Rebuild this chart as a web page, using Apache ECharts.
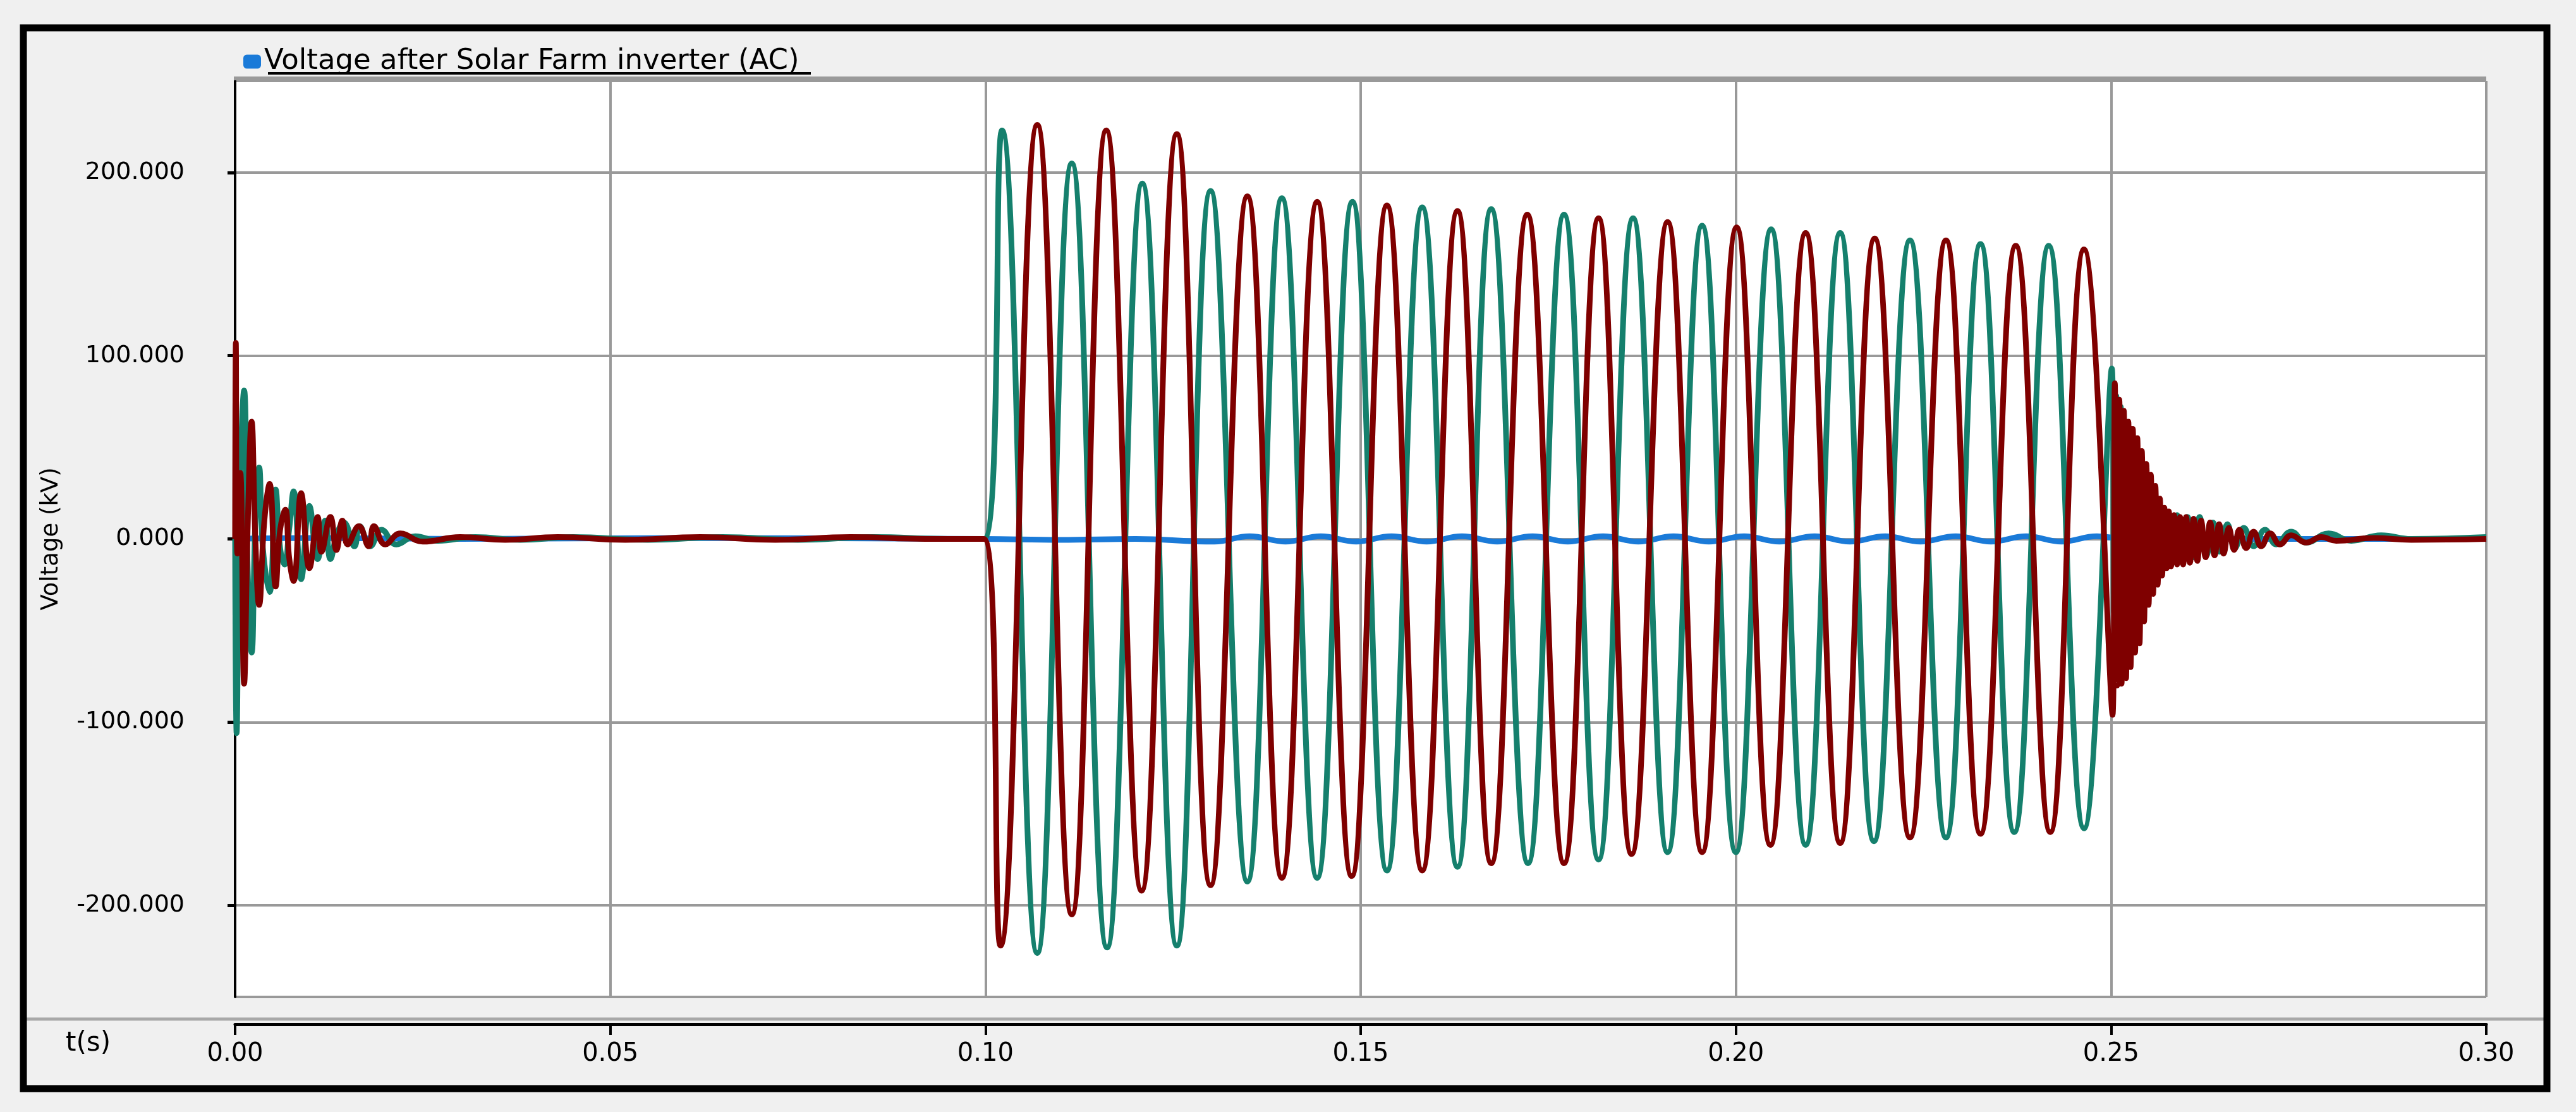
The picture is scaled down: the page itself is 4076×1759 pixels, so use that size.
<!DOCTYPE html>
<html><head><meta charset="utf-8">
<script src="https://cdn.jsdelivr.net/npm/echarts@6/dist/echarts.min.js"></script>
<style>html,body{margin:0;padding:0;background:#f0f0f0}#c{width:4076px;height:1759px}</style>
</head><body><div id="c"></div>
<script>
const legendName = 'Voltage after Solar Farm inverter (AC)';
const xTicks = [0, 0.05, 0.10, 0.15, 0.20, 0.25, 0.30];
const yTicks = [-200, -100, 0, 100, 200];

// [t (s), kV] points
const greenPts = [
 [0,0],[0.0002,-106],[0.0006,20],[0.0012,81],[0.0017,-20],[0.0022,-62],[0.0027,10],[0.0032,39],[0.0037,-5],
 [0.0046,-29],[0.0054,27],[0.0060,-5],[0.0066,-14],[0.0072,5],[0.0078,26],[0.0088,-22],[0.0099,18],[0.0110,-11],
 [0.0120,10],[0.0127,-11],[0.0136,3],[0.0145,9],[0.0159,-4],[0.0166,7],[0.0180,-4],[0.0195,5],[0.0215,-3],
 [0.0240,1.5],[0.0270,-1],[0.0320,1],[0.0380,-0.5],[0.0450,1],[0.0550,-0.5],[0.0650,1],[0.0750,-0.5],[0.0850,1],[0.0950,0],[0.0998,0],
 [0.1022,223],[0.1069,-226],[0.1115,205],[0.1162,-223],[0.1209,194],[0.1255,-222],[0.1300,190],[0.1349,-187],
 [0.1395,186],[0.1442,-185],[0.1489,184],[0.1535,-181],[0.1582,181],[0.1629,-179],[0.1674,180],[0.1723,-177],
 [0.1771,177],[0.1817,-175],[0.1863,175],[0.1909,-171],[0.1955,171],[0.2000,-171],[0.2047,169],[0.2093,-167],
 [0.2139,167],[0.2184,-165],[0.2232,163],[0.2280,-163],[0.2326,161],[0.2371,-160],[0.2417,160],[0.2464,-158],
 [0.2501,93],[0.2504,-40],[0.2507,78],[0.2510,-57],[0.2513,72],[0.2516,-50],[0.2519,62],[0.2522,-57],[0.2525,55],
 [0.2528,-45],[0.2531,47],[0.2534,-38],[0.2537,38],[0.2540,-30],[0.2543,32],[0.2546,-20],[0.2549,25],[0.2552,-15],
 [0.2556,17],[0.2560,-14],[0.2565,15],[0.2570,-12],[0.2576,14],[0.2582,-10],[0.2588,13],[0.2595,-11],[0.2602,12],
 [0.2610,-10],[0.2618,12],[0.2627,-9],[0.2636,9],[0.2645,-7],[0.2655,8],[0.2665,-5],[0.2677,6],[0.2690,-4],
 [0.2705,5],[0.2720,-3],[0.2740,4],[0.2760,-2],[0.2790,3],[0.2820,-1],[0.2860,2],[0.2900,0],[0.3000,1]
];
const redPts = [
 [0,0],[0.0001,107],[0.0003,-8],[0.0007,36],[0.0012,-79],[0.0017,10],[0.0022,64],[0.0027,0],[0.0032,-36],
 [0.0039,10],[0.0046,30],[0.0054,-26],[0.0060,5],[0.0067,16],[0.0072,-10],[0.0078,-23],[0.0088,25],[0.0099,-16],
 [0.0110,12],[0.0115,-7],[0.0127,12],[0.0135,-6],[0.0143,10],[0.0150,-3],[0.0165,7],[0.0178,-4],[0.0185,7],
 [0.0200,-3],[0.0220,3],[0.0250,-1.5],[0.0300,1],[0.0360,-0.5],[0.0430,1],[0.0520,-0.5],[0.0620,1],[0.0720,-0.5],[0.0820,1],[0.0920,0],[0.0998,0],
 [0.1020,-222],[0.1069,226],[0.1115,-205],[0.1161,223],[0.1208,-192],[0.1255,221],[0.1300,-189],[0.1349,187],
 [0.1395,-185],[0.1442,184],[0.1488,-184],[0.1535,182],[0.1582,-181],[0.1629,179],[0.1674,-177],[0.1722,177],
 [0.1771,-177],[0.1817,175],[0.1861,-172],[0.1909,173],[0.1955,-171],[0.2001,170],[0.2046,-167],[0.2093,167],
 [0.2139,-166],[0.2185,164],[0.2232,-163],[0.2280,163],[0.2326,-161],[0.2373,160],[0.2419,-160],[0.2464,158],
 [0.2502,-96],[0.2505,85],[0.2508,-80],[0.2511,76],[0.2514,-79],[0.2517,70],[0.2520,-76],[0.2523,64],[0.2526,-70],
 [0.2529,60],[0.2532,-62],[0.2535,55],[0.2538,-57],[0.2541,48],[0.2544,-45],[0.2547,41],[0.2550,-36],[0.2553,35],
 [0.2556,-30],[0.2559,29],[0.2562,-25],[0.2565,22],[0.2568,-20],[0.2571,17],[0.2574,-16],[0.2577,15],[0.2580,-15],
 [0.2584,13],[0.2588,-14],[0.2592,12],[0.2596,-14],[0.2600,12],[0.2605,-13],[0.2610,11],[0.2615,-12],[0.2620,10],
 [0.2626,-10],[0.2632,9],[0.2638,-9],[0.2644,8],[0.2650,-8],[0.2657,6],[0.2664,-6],[0.2671,5],[0.2680,-5],
 [0.2690,4],[0.2700,-4],[0.2712,3],[0.2725,-3],[0.2740,2],[0.2760,-2],[0.2780,1],[0.2800,-1],[0.2850,0.5],[0.2900,-0.5],[0.3000,0]
];
const bluePts = [
 [0,0],[0.01,0.5],[0.03,0],[0.06,0.5],[0.0998,0],[0.11,-0.5],[0.12,0],[0.1305,-1.5],[0.1352,1.5],[0.1400,-1.5],
 [0.1447,1.5],[0.1494,-1.5],[0.1541,1.5],[0.1588,-1.5],[0.1635,1.5],[0.1682,-1.5],[0.1729,1.5],[0.1776,-1.5],
 [0.1823,1.5],[0.1870,-1.5],[0.1917,1.5],[0.1964,-1.5],[0.2011,1.5],[0.2058,-1.5],[0.2105,1.5],[0.2152,-1.5],
 [0.2199,1.5],[0.2246,-1.5],[0.2293,1.5],[0.2340,-1.5],[0.2387,1.5],[0.2434,-1.5],[0.2481,1.5],[0.2520,0],[0.3000,0]
];

const FONT = 'DejaVu Sans';
const chart = echarts.init(document.getElementById('c'), null, {renderer:'canvas'});
chart.setOption({
  backgroundColor:'#f0f0f0',
  animation:false,
  textStyle:{fontFamily:FONT},
  legend:{data:[legendName], left:380, top:70, itemWidth:28, itemHeight:22, itemGap:12,
    icon:'roundRect', textStyle:{fontSize:45, color:'#000', fontFamily:FONT}},
  grid:{left:372, right:142, top:128, bottom:182, show:true, backgroundColor:'#fff', borderWidth:0},
  xAxis:{type:'value', min:0, max:0.3, interval:0.05, offset:43,
    axisLine:{show:true, onZero:false, lineStyle:{color:'#000', width:5}},
    axisTick:{show:true, length:17, lineStyle:{color:'#000', width:4}},
    axisLabel:{fontSize:40, color:'#000', margin:28, formatter:v=>v.toFixed(2)},
    splitLine:{show:true, lineStyle:{color:'#999', width:4}}},
  yAxis:{type:'value', min:-250, max:250, splitNumber:5, name:'Voltage (kV)', nameLocation:'middle', nameGap:272,
    nameTextStyle:{fontSize:37, color:'#000', fontFamily:FONT},
    axisLine:{show:true, onZero:false, lineStyle:{color:'#000', width:4}},
    axisTick:{show:true, length:12, lineStyle:{color:'#000', width:5}},
    axisLabel:{fontSize:38, color:'#000', margin:80, showMinLabel:false, showMaxLabel:false, formatter:v=>v.toFixed(3)},
    splitLine:{show:true, lineStyle:{color:'#999', width:4}}},
  series:[
    {name:legendName, type:'line', data:bluePts, showSymbol:false, smooth:0.4, color:'#1a7ad8', lineStyle:{width:9, color:'#1a7ad8'}, z:2},
    {name:'g', type:'line', data:greenPts, showSymbol:false, smooth:0.45, color:'#15806d', lineStyle:{width:9, color:'#15806d'}, z:3},
    {name:'r', type:'line', data:redPts, showSymbol:false, smooth:0.45, color:'#7f0000', lineStyle:{width:9, color:'#7f0000'}, z:4}
  ],
  graphic:[
    {type:'rect', shape:{x:37, y:44, width:3993, height:1678}, style:{fill:null, stroke:'#000', lineWidth:11}, z:100},
    {type:'line', shape:{x1:370, y1:124, x2:3934, y2:124}, style:{stroke:'#9a9a9a', lineWidth:6}, z:50},
    {type:'line', shape:{x1:424, y1:116, x2:1283, y2:116}, style:{stroke:'#000', lineWidth:4}, z:50},
    {type:'line', shape:{x1:42, y1:1612, x2:4026, y2:1612}, style:{stroke:'#a8a8a8', lineWidth:5}, z:50},
    {type:'text', x:104, y:1630, style:{text:'t(s)', fontSize:42, fill:'#000', fontFamily:FONT}, z:50}
  ]
});
</script></body></html>
